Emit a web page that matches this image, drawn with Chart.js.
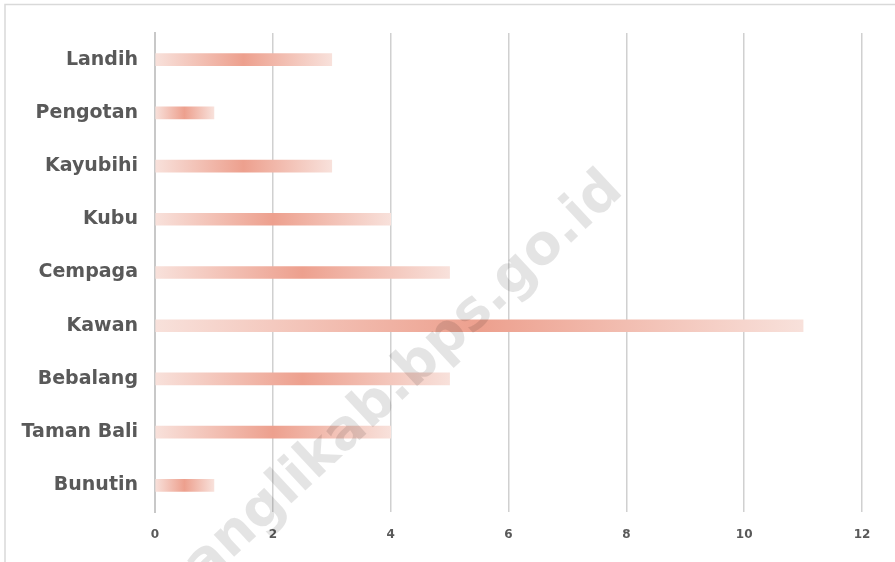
<!DOCTYPE html>
<html>
<head>
<meta charset="utf-8">
<script src="https://cdn.jsdelivr.net/npm/chart.js@4"></script>
<style>
html,body{margin:0;padding:0;background:#fff;}
#wrap{position:relative;width:895px;height:562px;}
</style>
</head>
<body>
<div id="wrap"><canvas id="c" width="895" height="562"></canvas></div>
<script>
const categories = ["Landih","Pengotan","Kayubihi","Kubu","Cempaga","Kawan","Bebalang","Taman Bali","Bunutin"];
const values = [3,1,3,4,5,11,5,4,1];
const xTicks = [0,2,4,6,8,10,12];
const watermarkText = "banglikab.bps.go.id";

function barGradient(ctx){
  const chart = ctx.chart;
  if (!chart.chartArea || ctx.dataIndex === undefined) return '#eea391';
  const xs = chart.scales.x;
  const x0 = xs.getPixelForValue(0);
  const x1 = xs.getPixelForValue(values[ctx.dataIndex]);
  const g = chart.ctx.createLinearGradient(x0,0,x1,0);
  g.addColorStop(0,'#f8e1db');
  g.addColorStop(0.5,'#eda08e');
  g.addColorStop(1,'#f8e1db');
  return g;
}

const framePlugin = {
  id:'frame',
  beforeDraw(chart){
    const c = chart.ctx;
    c.save();
    c.strokeStyle = '#d9d9d9';
    c.lineWidth = 1.5;
    c.beginPath();
    c.moveTo(5,900); c.lineTo(5,4.5); c.lineTo(900,4.5);
    c.stroke();
    c.restore();
  }
};
const watermarkPlugin = {
  id:'wm',
  afterDraw(chart){
    const c = chart.ctx;
    c.save();
    c.translate(390,392);
    c.rotate(-43*Math.PI/180);
    c.font = 'bold 55px "DejaVu Sans", sans-serif';
    c.fillStyle = 'rgba(0,0,0,0.105)';
    c.textAlign = 'center';
    c.textBaseline = 'middle';
    c.fillText(watermarkText,0,0);
    c.restore();
  }
};

new Chart(document.getElementById('c'),{
  type:'bar',
  data:{
    labels:categories,
    datasets:[{data:values,backgroundColor:barGradient,barThickness:12,borderWidth:0}]
  },
  options:{
    indexAxis:'y',
    responsive:false,
    animation:false,
    layout:{padding:{top:33,right:33,left:0,bottom:0}},
    plugins:{legend:{display:false},tooltip:{enabled:false}},
    scales:{
      x:{
        min:0,max:12,
        afterBuildTicks(s){ s.ticks = xTicks.map(v=>({value:v})); },
        afterFit(s){ s.height = 50; },
        grid:{color:'#d0d0d0',lineWidth:1.5,drawTicks:false},
        border:{display:false},
        ticks:{padding:16,color:'#595959',font:{family:'DejaVu Sans',weight:'bold',size:12}}
      },
      y:{
        afterFit(s){ s.width = 155; },
        grid:{display:false,drawTicks:false},
        border:{display:true,color:'#c8c8c8',width:2},
        ticks:{padding:17,color:'#595959',font:{family:'DejaVu Sans',weight:'bold',size:19}}
      }
    }
  },
  plugins:[framePlugin,watermarkPlugin]
});
</script>
</body>
</html>
